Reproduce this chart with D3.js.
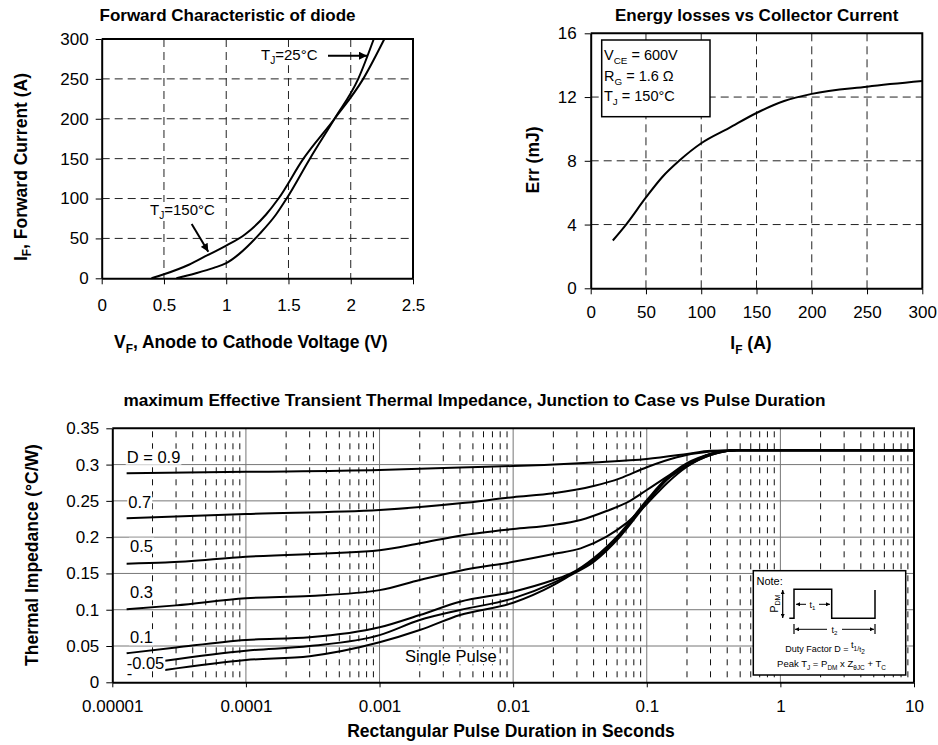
<!DOCTYPE html>
<html>
<head>
<meta charset="utf-8">
<script src="https://cdn.jsdelivr.net/npm/d3@7"></script>
<style>
  body { margin: 0; background: #fff; }
  svg text { font-family: Arial, "Liberation Sans", Helvetica, sans-serif; fill: #000; }
</style>
</head>
<body>
<svg id="chart" width="938" height="745"></svg>
<script>
// ── Forward characteristic of diode ──────────────
const vfTicks = [0, 0.5, 1, 1.5, 2, 2.5];
const ifTicks = [0, 50, 100, 150, 200, 250, 300];
const vf25  = [0.6, 0.75, 0.9, 1.0, 1.1, 1.27, 1.4, 1.485, 1.672, 1.87, 2.06, 2.185];
const if25  = [0, 6, 13, 19, 30, 56, 80, 100, 150, 200, 250, 300];
const vf150 = [0.4, 0.5, 0.7, 0.85, 1.0, 1.15, 1.32, 1.42, 1.62, 1.87, 2.10, 2.27];
const if150 = [0, 5, 17, 29, 41, 55, 80, 100, 150, 200, 250, 300];

// ── Energy losses vs collector current ───────────
const iaTicks  = [0, 50, 100, 150, 200, 250, 300];
const errTicks = [0, 4, 8, 12, 16];
const iaVals   = [20, 32, 50, 65, 80, 100, 125, 150, 175, 200, 250, 300];
const errVals  = [3.0, 4.0, 5.7, 7.0, 8.0, 9.1, 10.05, 11.0, 11.75, 12.2, 12.65, 13.0];

// ── Transient thermal impedance ──────────────────
const tTickLabels = ['0.00001', '0.0001', '0.001', '0.01', '0.1', '1', '10'];
const zTicks = [0, 0.05, 0.1, 0.15, 0.2, 0.25, 0.3, 0.35];
const zD09 = [[1.28e-5,0.288],[1e-4,0.290],[1e-3,0.2925],[4e-3,0.296],[1e-2,0.298],[4e-2,0.303],[0.1,0.3077],[0.2,0.3146],[0.3,0.319],[0.5,0.3197],[10,0.3197]];
const zD07 = [[1.28e-5,0.226],[1e-4,0.232],[1e-3,0.2374],[4e-3,0.2466],[1e-2,0.255],[2e-2,0.2604],[4e-2,0.2705],[6.3e-2,0.281],[0.1,0.2963],[0.168,0.31],[0.3,0.318],[0.5,0.3197],[10,0.3197]];
const zD05 = [[1.28e-5,0.1635],[2.5e-5,0.165],[1e-4,0.173],[1e-3,0.182],[2e-3,0.1915],[4e-3,0.202],[1e-2,0.2112],[2e-2,0.2168],[3.2e-2,0.2237],[5e-2,0.236],[7.5e-2,0.25],[0.1,0.265],[0.141,0.283],[0.2,0.302],[0.3,0.3146],[0.47,0.3197],[10,0.3197]];
const zD03 = [[1.28e-5,0.1006],[3e-5,0.106],[1e-4,0.1158],[3e-4,0.119],[1e-3,0.127],[2e-3,0.141],[4e-3,0.1538],[1e-2,0.166],[2e-2,0.1768],[3.2e-2,0.1846],[5e-2,0.2007],[7e-2,0.219],[0.1,0.2457],[0.141,0.274],[0.2,0.297],[0.3,0.313],[0.47,0.3197],[10,0.3197]];
const zD01 = [[1.28e-5,0.040],[3e-5,0.048],[1e-4,0.0583],[3e-4,0.062],[1e-3,0.0758],[2e-3,0.0927],[4e-3,0.111],[1e-2,0.1249],[2e-2,0.141],[2.7e-2,0.150],[4e-2,0.171],[6.3e-2,0.2053],[0.1,0.251],[0.141,0.281],[0.2,0.2995],[0.3,0.3146],[0.47,0.3197],[10,0.3197]];
const zD005 = [[2.48e-5,0.0298],[1e-4,0.0436],[3e-4,0.05],[1e-3,0.065],[2e-3,0.0858],[4e-3,0.0996],[1e-2,0.1157],[2e-2,0.137],[2.7e-2,0.149],[4e-2,0.1685],[6.3e-2,0.203],[0.1,0.2489],[0.141,0.28],[0.2,0.299],[0.3,0.3146],[0.47,0.3197],[10,0.3197]];
const zSingle = [[2.48e-5,0.017],[1e-4,0.0307],[3e-4,0.036],[1e-3,0.0551],[2e-3,0.072],[4e-3,0.0927],[1e-2,0.1097],[2e-2,0.134],[2.7e-2,0.1478],[4e-2,0.166],[6.3e-2,0.2006],[0.1,0.2467],[0.141,0.2788],[0.2,0.298],[0.3,0.313],[0.47,0.3197],[10,0.3197]];

const svg = d3.select('#chart');

// arrow heads
const defs = svg.append('defs');
defs.append('marker').attr('id', 'arrow')
  .attr('viewBox', '0 0 10 10').attr('refX', 10).attr('refY', 5)
  .attr('markerUnits', 'userSpaceOnUse').attr('markerWidth', 9).attr('markerHeight', 8)
  .attr('orient', 'auto-start-reverse')
  .append('path').attr('d', 'M0,0 L10,5 L0,10 z').attr('fill', '#000');
defs.append('marker').attr('id', 'arrowS')
  .attr('viewBox', '0 0 10 10').attr('refX', 10).attr('refY', 5)
  .attr('markerUnits', 'userSpaceOnUse').attr('markerWidth', 5).attr('markerHeight', 4)
  .attr('orient', 'auto-start-reverse')
  .append('path').attr('d', 'M0,0 L10,5 L0,10 z').attr('fill', '#000');

// text parts: [str, 'n'|'sub'|'sup'] or [str, shiftEm, scale]
function addParts(t, parts, size) {
  let shift = 0;
  parts.forEach(p => {
    let target, fs;
    if (p.length === 3) { target = p[1] * size; fs = p[2] * size; }
    else {
      const k = p[1];
      target = k === 'sub' ? size * 0.28 : k === 'sup' ? -size * 0.38 : 0;
      fs = k === 'n' ? size : size * 0.68;
    }
    t.append('tspan').attr('dy', target - shift).attr('font-size', fs).text(p[0]);
    shift = target;
  });
  return t;
}

function label(parent, x, y, parts, size, opts = {}) {
  const t = parent.append('text')
    .attr('x', x).attr('y', y)
    .attr('font-size', size)
    .attr('font-weight', opts.bold ? 'bold' : 'normal')
    .attr('text-anchor', opts.anchor || 'start');
  if (opts.rotate) {
    t.attr('x', 0).attr('y', 0).attr('transform', `translate(${x},${y}) rotate(-90)`);
  }
  addParts(t, parts, size);
  if (opts.bg) {
    const b = t.node().getBBox();
    parent.insert('rect', () => t.node())
      .attr('x', b.x - 1).attr('y', b.y + 1)
      .attr('width', b.width + 2).attr('height', b.height - 2)
      .attr('fill', '#fff');
  }
  return t;
}

function styleAxis(g, size) {
  g.attr('font-size', size)
   .attr('font-family', 'Arial, "Liberation Sans", sans-serif');
  g.select('.domain').attr('stroke', '#000').attr('stroke-width', 2);
  g.selectAll('.tick line').attr('stroke', '#000').attr('stroke-width', 1);
}

// ═════════ Chart 1: Forward characteristic ═════════
{
  const x = d3.scaleLinear().domain([0, 2.5]).range([101.7, 413]);
  const y = d3.scaleLinear().domain([0, 300]).range([278.3, 39]);
  const g = svg.append('g');

  g.append('g').selectAll('line').data(vfTicks.slice(1, -1)).enter().append('line')
    .attr('x1', d => x(d)).attr('x2', d => x(d))
    .attr('y1', y(300)).attr('y2', y(0))
    .attr('stroke', '#222').attr('stroke-dasharray', '8,5');
  g.append('g').selectAll('line').data(ifTicks.slice(1, -1)).enter().append('line')
    .attr('x1', x(0)).attr('x2', x(2.5))
    .attr('y1', d => y(d)).attr('y2', d => y(d))
    .attr('stroke', '#222').attr('stroke-dasharray', '8,5');

  // frame top/right
  g.append('path')
    .attr('d', `M${x(0)},${y(300)} H${x(2.5)} V${y(0)}`)
    .attr('fill', 'none').attr('stroke', '#000').attr('stroke-width', 2);

  const line = d3.line().x(d => x(d[0])).y(d => y(d[1])).curve(d3.curveMonotoneX);
  const c25  = vf25.map((v, i) => [v, if25[i]]);
  const c150 = vf150.map((v, i) => [v, if150[i]]);
  [c25, c150].forEach(c => g.append('path').attr('d', line(c))
    .attr('fill', 'none').attr('stroke', '#000').attr('stroke-width', 2));

  const ax = g.append('g').attr('transform', `translate(0,${y(0)})`)
    .call(d3.axisBottom(x).tickValues(vfTicks).tickSize(6).tickSizeOuter(0).tickPadding(15)
      .tickFormat(d => String(d)));
  styleAxis(ax, 17);
  const ay = g.append('g').attr('transform', `translate(${x(0)},0)`)
    .call(d3.axisLeft(y).tickValues(ifTicks).tickSize(6).tickSizeOuter(0).tickPadding(7));
  styleAxis(ay, 17);

  // labels & arrows
  label(g, 261, 60, [['T', 'n'], ['J', 'sub'], ['=25°C', 'n']], 15, { bg: true });
  g.append('line').attr('x1', 328).attr('y1', 55.7).attr('x2', 367).attr('y2', 55.7)
    .attr('stroke', '#000').attr('stroke-width', 2).attr('marker-end', 'url(#arrow)');
  label(g, 150, 215, [['T', 'n'], ['J', 'sub'], ['=150°C', 'n']], 15, { bg: true });
  g.append('line').attr('x1', 191.7).attr('y1', 224).attr('x2', 208.3).attr('y2', 251.7)
    .attr('stroke', '#000').attr('stroke-width', 2).attr('marker-end', 'url(#arrow)');

  label(g, 227.5, 21, [['Forward Characteristic of diode', 'n']], 17, { bold: true, anchor: 'middle' });
  label(g, 250.8, 348, [['V', 'n'], ['F', 'sub'], [', Anode to Cathode Voltage (V)', 'n']], 17.5,
    { bold: true, anchor: 'middle' });
  label(g, 26.5, 167, [['I', 'n'], ['F', 'sub'], [', Forward Current (A)', 'n']], 17.5,
    { bold: true, anchor: 'middle', rotate: true });
}

// ═════════ Chart 2: Energy losses ═════════
{
  const x = d3.scaleLinear().domain([0, 300]).range([590.7, 922.3]);
  const y = d3.scaleLinear().domain([0, 16]).range([288.3, 33.3]);
  const g = svg.append('g');

  g.append('g').selectAll('line').data(iaTicks.slice(1, -1)).enter().append('line')
    .attr('x1', d => x(d)).attr('x2', d => x(d))
    .attr('y1', y(16)).attr('y2', y(0))
    .attr('stroke', '#222').attr('stroke-dasharray', '8,5');
  g.append('g').selectAll('line').data(errTicks.slice(1, -1)).enter().append('line')
    .attr('x1', x(0)).attr('x2', x(300))
    .attr('y1', d => y(d)).attr('y2', d => y(d))
    .attr('stroke', '#222').attr('stroke-dasharray', '8,5');

  g.append('path')
    .attr('d', `M${x(0)},${y(16)} H${x(300)} V${y(0)}`)
    .attr('fill', 'none').attr('stroke', '#000').attr('stroke-width', 2);

  const line = d3.line().x(d => x(d[0])).y(d => y(d[1])).curve(d3.curveMonotoneX);
  g.append('path').attr('d', line(iaVals.map((v, i) => [v, errVals[i]])))
    .attr('fill', 'none').attr('stroke', '#000').attr('stroke-width', 2);

  const ax = g.append('g').attr('transform', `translate(0,${y(0)})`)
    .call(d3.axisBottom(x).tickValues(iaTicks).tickSize(6).tickSizeOuter(0).tickPadding(12));
  styleAxis(ax, 17);
  const ay = g.append('g').attr('transform', `translate(${x(0)},0)`)
    .call(d3.axisLeft(y).tickValues(errTicks).tickSize(6).tickSizeOuter(0).tickPadding(8));
  styleAxis(ay, 17);

  // condition box
  g.append('rect').attr('x', 601.7).attr('y', 40).attr('width', 108.3).attr('height', 76.7)
    .attr('fill', '#fff').attr('stroke', '#000').attr('stroke-width', 1.5);
  label(g, 604, 60,  [['V', 'n'], ['CE', 'sub'], [' = 600V', 'n']], 14.5);
  label(g, 604, 80.5, [['R', 'n'], ['G', 'sub'], [' = 1.6 Ω', 'n']], 14.5);
  label(g, 604, 101, [['T', 'n'], ['J', 'sub'], [' = 150°C', 'n']], 14.5);

  label(g, 756.7, 21, [['Energy losses vs Collector Current', 'n']], 17, { bold: true, anchor: 'middle' });
  label(g, 751, 349, [['I', 'n'], ['F', 'sub'], [' (A)', 'n']], 17.5, { bold: true, anchor: 'middle' });
  label(g, 539, 160, [['Err (mJ)', 'n']], 17.5, { bold: true, anchor: 'middle', rotate: true });
}

// ═════════ Chart 3: Transient thermal impedance ═════════
{
  const x = d3.scaleLog().domain([1e-5, 10]).range([112.3, 914]);
  const y = d3.scaleLinear().domain([0, 0.35]).range([682.3, 428.3]);
  const g = svg.append('g');

  const decades = tTickLabels.map(s => +s);
  const minors = [];
  decades.slice(0, -1).forEach(d => { for (let k = 2; k <= 9; k++) minors.push(d * k); });

  g.append('g').selectAll('line').data(minors).enter().append('line')
    .attr('x1', d => x(d)).attr('x2', d => x(d))
    .attr('y1', y(0.35)).attr('y2', y(0))
    .attr('stroke', '#111').attr('stroke-dasharray', '6,6').attr('stroke-dashoffset', -3);
  g.append('g').selectAll('line').data(decades.slice(1, -1)).enter().append('line')
    .attr('x1', d => x(d)).attr('x2', d => x(d))
    .attr('y1', y(0.35)).attr('y2', y(0))
    .attr('stroke', '#777');
  g.append('g').selectAll('line').data(zTicks.slice(1, -1)).enter().append('line')
    .attr('x1', x(1e-5)).attr('x2', x(10))
    .attr('y1', d => y(d)).attr('y2', d => y(d))
    .attr('stroke', '#777');

  g.append('path')
    .attr('d', `M${x(1e-5)},${y(0.35)} H${x(10)} V${y(0)}`)
    .attr('fill', 'none').attr('stroke', '#000').attr('stroke-width', 2);

  const line = d3.line().x(d => x(d[0])).y(d => y(d[1])).curve(d3.curveMonotoneX);
  [zD09, zD07, zD05, zD03, zD01, zD005, zSingle].forEach(c =>
    g.append('path').attr('d', line(c))
      .attr('fill', 'none').attr('stroke', '#000').attr('stroke-width', 2));

  const ax = g.append('g').attr('transform', `translate(0,${y(0)})`)
    .call(d3.axisBottom(x).tickValues(decades).tickSize(5).tickSizeOuter(0).tickPadding(13)
      .tickFormat((d, i) => tTickLabels[i]));
  styleAxis(ax, 17);
  const ay = g.append('g').attr('transform', `translate(${x(1e-5)},0)`)
    .call(d3.axisLeft(y).tickValues(zTicks).tickSize(6).tickSizeOuter(0).tickPadding(7)
      .tickFormat(d => String(+d.toFixed(2))));
  styleAxis(ay, 17);

  // curve labels
  label(g, 126.7, 462.7, [['D = 0.9', 'n']], 16.5, { bg: true });
  label(g, 128.3, 508.3, [['0.7', 'n']], 16.5, { bg: true });
  label(g, 130, 551.7, [['0.5', 'n']], 16.5, { bg: true });
  label(g, 130, 598.3, [['0.3', 'n']], 16.5, { bg: true });
  label(g, 130, 643.3, [['0.1', 'n']], 16.5, { bg: true });
  const l05 = label(g, 126.7, 668.7, [['-0.05', 'n']], 16.5, { bg: true });
  l05.append('tspan').attr('x', 126.7).attr('dy', 10.5).text('-');
  label(g, 405, 662.3, [['Single Pulse', 'n']], 16.5, { bg: true });

  // note box
  const n = g.append('g');
  n.append('rect').attr('x', 753.3).attr('y', 570.7).attr('width', 152.4).attr('height', 104.3)
    .attr('fill', '#fff').attr('stroke', '#000').attr('stroke-width', 1.5);
  label(n, 756.5, 585, [['Note:', 'n']], 11);
  n.append('path')
    .attr('d', 'M789.3,618.3 H794 V589.3 H831.7 V618.3 H875 V590')
    .attr('fill', 'none').attr('stroke', '#000').attr('stroke-width', 1.5);
  n.append('line').attr('x1', 782.7).attr('x2', 782.7).attr('y1', 590).attr('y2', 618)
    .attr('stroke', '#000').attr('stroke-width', 1.2)
    .attr('marker-start', 'url(#arrowS)').attr('marker-end', 'url(#arrowS)');
  label(n, 777.5, 603.5, [['P', 'n'], ['DM', 'sub']], 10.5, { anchor: 'middle', rotate: true });
  // t1
  n.append('line').attr('x1', 796).attr('x2', 806).attr('y1', 604.3).attr('y2', 604.3)
    .attr('stroke', '#000').attr('stroke-width', 1).attr('marker-start', 'url(#arrowS)');
  n.append('line').attr('x1', 819).attr('x2', 830).attr('y1', 604.3).attr('y2', 604.3)
    .attr('stroke', '#000').attr('stroke-width', 1).attr('marker-end', 'url(#arrowS)');
  label(n, 812.5, 607.5, [['t', 'n'], ['1', 'sub']], 9, { anchor: 'middle' });
  // t2
  n.append('line').attr('x1', 795).attr('x2', 827).attr('y1', 629.3).attr('y2', 629.3)
    .attr('stroke', '#000').attr('stroke-width', 1).attr('marker-start', 'url(#arrowS)');
  n.append('line').attr('x1', 842).attr('x2', 874).attr('y1', 629.3).attr('y2', 629.3)
    .attr('stroke', '#000').attr('stroke-width', 1).attr('marker-end', 'url(#arrowS)');
  n.append('line').attr('x1', 794).attr('x2', 794).attr('y1', 624).attr('y2', 634)
    .attr('stroke', '#000').attr('stroke-width', 1.2);
  n.append('line').attr('x1', 875).attr('x2', 875).attr('y1', 624).attr('y2', 634)
    .attr('stroke', '#000').attr('stroke-width', 1.2);
  label(n, 834.5, 632.5, [['t', 'n'], ['2', 'sub']], 9, { anchor: 'middle' });
  label(n, 825, 652.3, [['Duty Factor  D = ', 'n'], ['t', -0.45, 1.05], ['1', -0.2, 0.72], ['/', -0.2, 0.8],
    ['t', 0, 0.8], ['2', 0.2, 0.72]], 9, { anchor: 'middle' });
  label(n, 831.5, 667.3, [['Peak T', 'n'], ['J', 'sub'], [' = P', 'n'], ['DM', 'sub'], [' x Z', 'n'], ['θJC', 'sub'],
    [' + T', 'n'], ['C', 'sub']], 9.5, { anchor: 'middle' });

  label(g, 474.4, 406, [['maximum Effective Transient Thermal Impedance, Junction to Case vs Pulse Duration', 'n']], 17.2,
    { bold: true, anchor: 'middle' });
  label(g, 511, 737, [['Rectangular Pulse Duration in Seconds', 'n']], 17.5, { bold: true, anchor: 'middle' });
  label(g, 37.5, 555, [['Thermal Impedance (°C/W)', 'n']], 17.5, { bold: true, anchor: 'middle', rotate: true });
}
</script>
</body>
</html>
